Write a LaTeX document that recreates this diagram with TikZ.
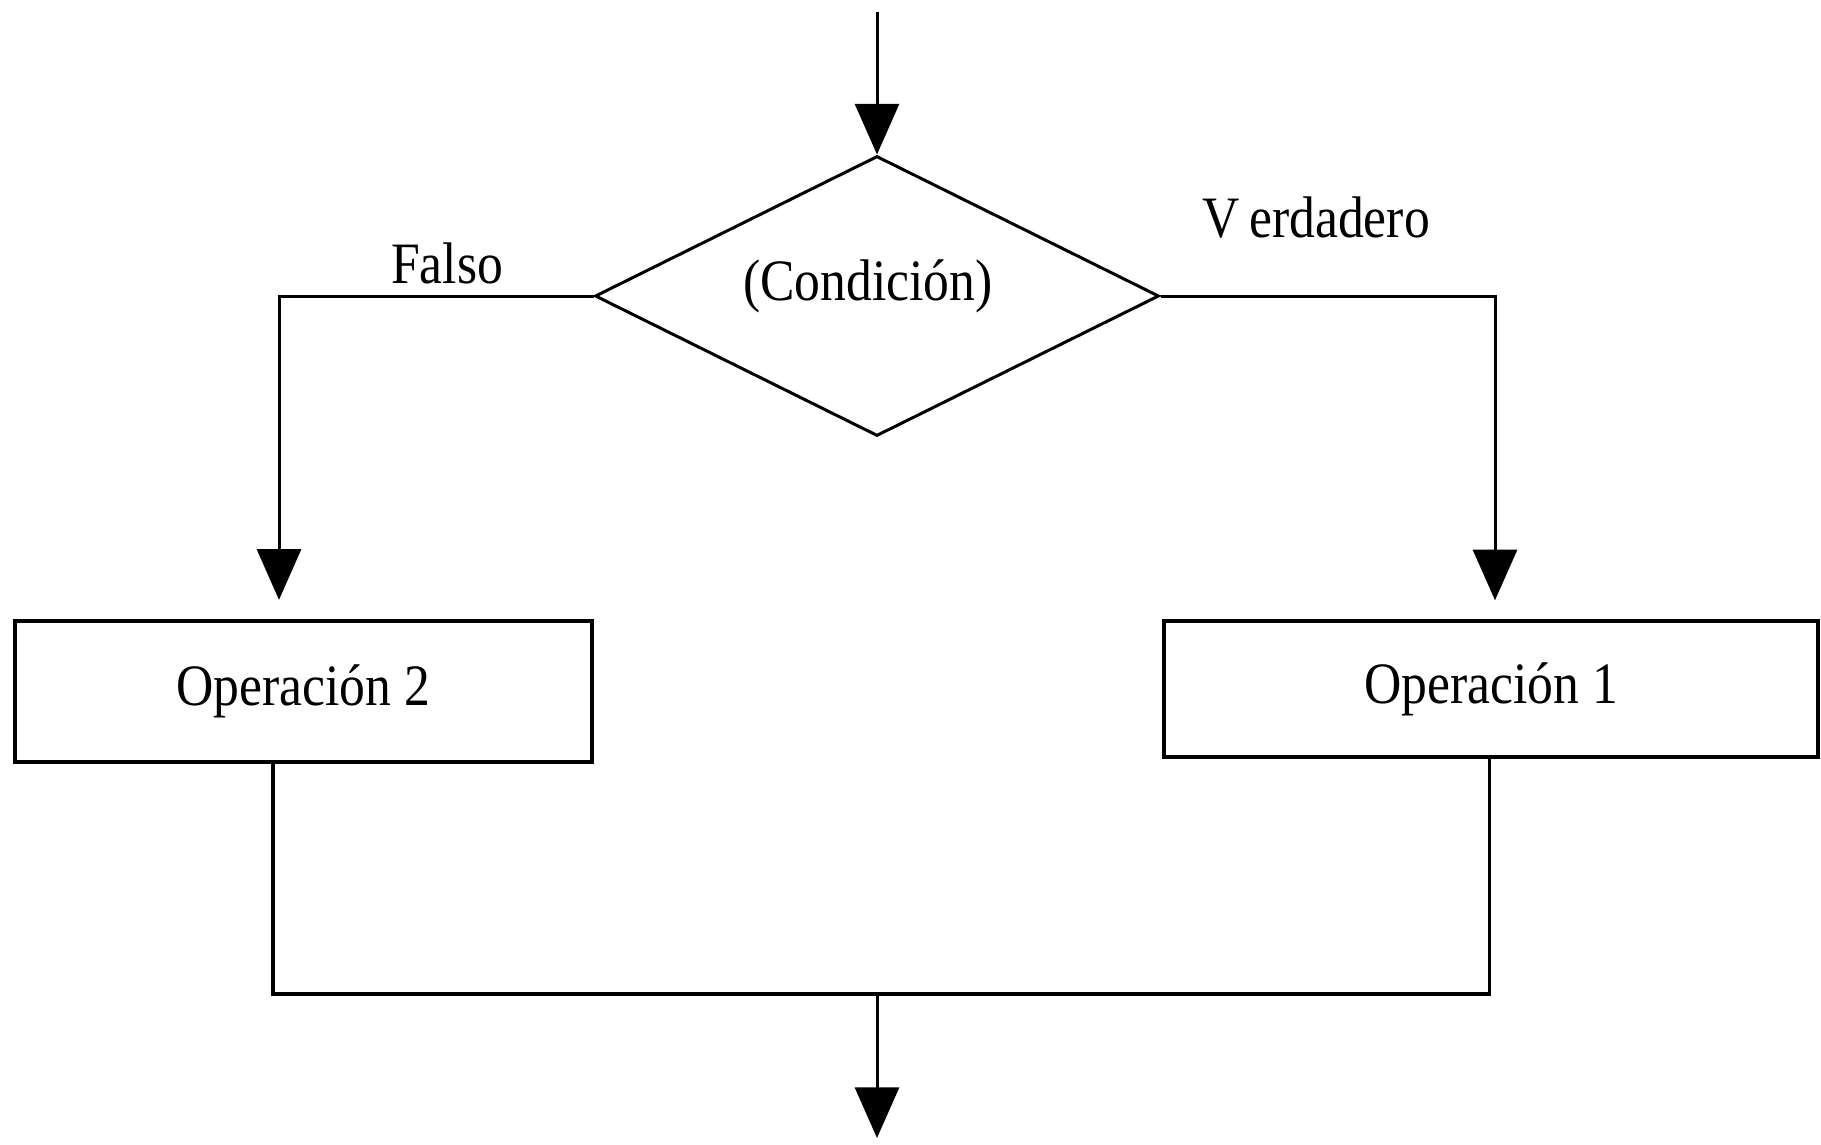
\documentclass[tikz,border=0pt]{standalone}
\usepackage{fontspec}
\setmainfont{Liberation Serif}[FakeStretch=0.88]
\usepackage{tikz}
\usetikzlibrary{arrows.meta,shapes.geometric}

\tikzset{
  caja/.style={draw,line width=3pt,inner sep=0pt,font=\fontsize{44}{50}\selectfont},
  rombo/.style={draw,diamond,line width=2.25pt,inner sep=0pt},
  flecha/.style={line width=2.25pt,-{Triangle[width=33pt,length=38pt]}},
  linea/.style={line width=2.6pt},
  etiqueta/.style={anchor=base,inner sep=0pt,font=\fontsize{44}{50}\selectfont}
}

\begin{document}
\begin{tikzpicture}[x=0.75pt,y=0.75pt,yscale=-1,xscale=1]
\useasboundingbox (0,0) rectangle (1821,1145);

%Decision
\node[rombo,minimum width=423pt,minimum height=210pt] (cond) at (877,296) {};
% Text Node
\node[etiqueta] (condtxt) at (868,300) {(Condición)};

%Boxes
\node[caja,minimum width=432.75pt,minimum height=105.75pt] (op2) at (303,691) {Operación 2};
\node[caja,minimum width=490.5pt,minimum height=102pt] (op1) at (1491,689) {Operación 1};

% Text Node
\node[etiqueta] (falso) at (447,283) {Falso};
% Text Node
\node[etiqueta] (verdadero) at (1316,238) {V\,erdadero};

\coordinate (entrada) at (877,12);
\coordinate (union) at (877,994);
\coordinate (salida) at (877,1138);

%Straight Lines
\draw[flecha] (entrada) -- (cond.north);
\draw[flecha,shorten >=14pt] (cond.west) -| ([xshift=-18pt]op2.north);
\draw[flecha,shorten >=14pt] (cond.east) -| ([xshift=3pt]op1.north);
\draw[linea] ([xshift=-22.5pt]op2.south) |- (union) -| ([xshift=-1pt]op1.south);
\draw[flecha] (union) -- (salida);

\end{tikzpicture}
\end{document}
